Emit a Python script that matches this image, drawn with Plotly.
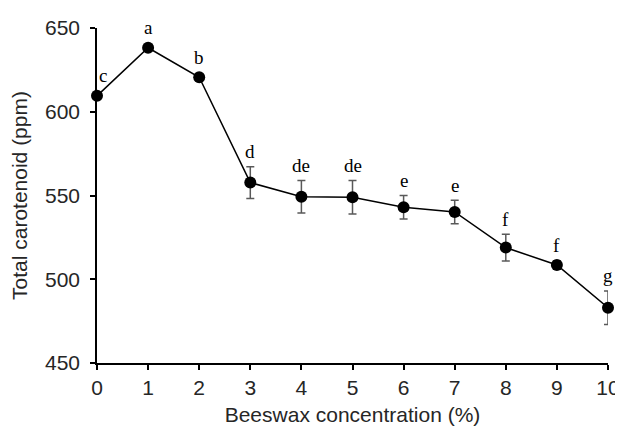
import plotly.graph_objects as go

conc = [0, 1, 2, 3, 4, 5, 6, 7, 8, 9, 10]
carotenoid = [609.5, 638.2, 620.6, 557.7, 549.3, 548.9, 543.0, 540.2, 518.9, 508.5, 483.0]
err = [0, 0, 0, 9.5, 9.7, 10.0, 7.0, 7.0, 8.0, 2.5, 10.0]
letters = ["c", "a", "b", "d", "de", "de", "e", "e", "f", "f", "g"]
y_ticks = [450, 500, 550, 600, 650]

fig = go.Figure()
fig.add_trace(go.Scatter(
    x=conc, y=carotenoid,
    mode="lines+markers",
    line=dict(color="black", width=1.5),
    marker=dict(color="black", size=12),
    error_y=dict(type="data", array=err, visible=True, color="#595959", thickness=1.5, width=4),
    cliponaxis=False,
    showlegend=False,
))

for xi, yi, ei, lab in zip(conc, carotenoid, err, letters):
    fig.add_annotation(
        x=xi, y=yi + ei, text=lab, showarrow=False,
        yanchor="middle", yshift=15 if ei > 0 else 20,
        xshift=6 if xi == 0 else 0,
        font=dict(family="Liberation Serif, Times New Roman, serif", size=19, color="black"),
    )

# page body adds an 8px margin, so the figure is sized to fit the window
fig.update_layout(
    width=615, height=418,
    margin=dict(l=89, r=15, t=20, b=63),
    paper_bgcolor="white", plot_bgcolor="white",
    font=dict(family="Liberation Sans, Arial, sans-serif", size=21, color="#262626"),
)
fig.update_xaxes(
    range=[0, 10], tickvals=conc, ticks="outside", ticklen=5, tickwidth=1.5,
    tickcolor="black", showline=True, linecolor="black", linewidth=1.5,
    showgrid=False, zeroline=False, automargin=False,
    title=dict(text="Beeswax concentration (%)", standoff=19, font=dict(size=21)),
)
fig.update_yaxes(
    range=[450, 650], tickvals=y_ticks, ticks="outside", ticklen=5, tickwidth=1.5,
    tickcolor="black", showline=True, linecolor="black", linewidth=1.5,
    showgrid=False, zeroline=False, ticklabelstandoff=6, automargin=False,
    title=dict(text="Total carotenoid (ppm)", standoff=12, font=dict(size=21)),
)

fig.write_html("out.html")
